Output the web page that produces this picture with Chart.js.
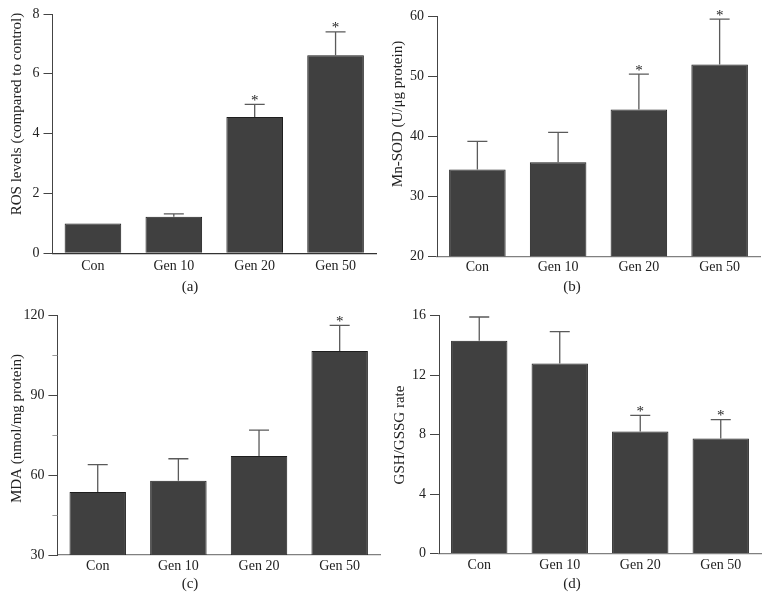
<!DOCTYPE html>
<html>
<head>
<meta charset="utf-8">
<script src="https://cdn.jsdelivr.net/npm/chart.js@4.4.1/dist/chart.umd.min.js"></script>
<style>
  body { margin: 0; background: #fff; }
  #wrap { position: relative; width: 766px; height: 604px; font-family: "Liberation Serif", serif; }
  canvas { position: absolute; }
  .lbl { position: absolute; font-size: 15px; color: #222; transform: translate(-50%, -50%); }
</style>
</head>
<body>
<div id="wrap">
  <canvas id="ca" width="383" height="302" style="left:0;top:0"></canvas>
  <canvas id="cb" width="383" height="302" style="left:383px;top:0"></canvas>
  <canvas id="cc" width="383" height="302" style="left:0;top:302px"></canvas>
  <canvas id="cd" width="383" height="302" style="left:383px;top:302px"></canvas>
  <div class="lbl" style="left:190px;top:286px">(a)</div>
  <div class="lbl" style="left:572px;top:286px">(b)</div>
  <div class="lbl" style="left:190px;top:583px">(c)</div>
  <div class="lbl" style="left:572px;top:583px">(d)</div>
</div>
<script>
// --- данные ---
const groups = ['Con', 'Gen 10', 'Gen 20', 'Gen 50'];

const rosMean = [1.0, 1.22, 4.56, 6.62];
const rosSD   = [0, 0.1, 0.42, 0.78];
const rosSig  = [false, false, true, true];

const sodMean = [34.5, 35.7, 44.5, 52.0];
const sodSD   = [4.7, 5.0, 5.9, 7.6];
const sodSig  = [false, false, true, true];

const mdaMean = [53.6, 57.8, 67.1, 106.5];
const mdaSD   = [10.3, 8.3, 9.7, 9.6];
const mdaSig  = [false, false, false, true];
const mdaMinor = [45, 75, 105];

const gshMean = [14.3, 12.77, 8.2, 7.73];
const gshSD   = [1.6, 2.15, 1.08, 1.27];
const gshSig  = [false, false, true, true];

const FONT = 'Liberation Serif';

// --- планки погрешностей, звёздочки, малые деления ---
const errorBars = {
  id: 'errorBars',
  afterDatasetsDraw(chart, args, o) {
    const ctx = chart.ctx;
    const y = chart.scales.y;
    const vals = chart.data.datasets[0].data;
    ctx.save();
    ctx.strokeStyle = '#5a5a5a';
    ctx.lineWidth = 1.3;
    ctx.fillStyle = '#222';
    ctx.font = '15px "' + FONT + '"';
    ctx.textAlign = 'center';
    ctx.textBaseline = 'alphabetic';
    chart.getDatasetMeta(0).data.forEach((bar, i) => {
      const sd = o.sd[i];
      const top = y.getPixelForValue(vals[i] + sd);
      if (sd > 0) {
        ctx.beginPath();
        ctx.moveTo(bar.x, bar.y);
        ctx.lineTo(bar.x, top);
        ctx.moveTo(bar.x - 10, top);
        ctx.lineTo(bar.x + 10, top);
        ctx.stroke();
      }
      if (o.sig[i]) ctx.fillText('*', bar.x, top + 0.5);
    });
    if (o.minor) {
      ctx.strokeStyle = '#999';
      ctx.lineWidth = 1;
      o.minor.forEach(v => {
        const py = Math.round(y.getPixelForValue(v)) + 0.5;
        ctx.beginPath();
        ctx.moveTo(y.right - 5, py);
        ctx.lineTo(y.right, py);
        ctx.stroke();
      });
    }
    ctx.restore();
  }
};

// --- подпись оси Y ---
const yTitle = {
  id: 'yTitle',
  afterDraw(chart, args, o) {
    const ctx = chart.ctx;
    ctx.save();
    ctx.translate(o.x, o.y);
    ctx.rotate(-Math.PI / 2);
    ctx.fillStyle = '#222';
    ctx.font = o.size + 'px "' + FONT + '"';
    ctx.textAlign = 'center';
    ctx.textBaseline = 'middle';
    ctx.fillText(o.text, 0, 0);
    ctx.restore();
  }
};

function makePanel(id, p) {
  return new Chart(document.getElementById(id), {
    type: 'bar',
    data: {
      labels: groups,
      datasets: [{
        data: p.mean,
        backgroundColor: '#404040',
        borderColor: '#1e1e1e',
        borderWidth: 1,
        categoryPercentage: 1,
        barPercentage: 0.7
      }]
    },
    options: {
      responsive: false,
      animation: false,
      layout: { padding: { left: 0, right: 383 - p.right, top: p.top, bottom: 0 } },
      plugins: {
        legend: { display: false },
        tooltip: { enabled: false },
        errorBars: { sd: p.sd, sig: p.sig, minor: p.minor },
        yTitle: { text: p.title, x: p.tx, y: p.ty, size: 15 }
      },
      scales: {
        x: {
          grid: { display: false, drawTicks: false },
          border: { color: p.xColor, width: 1.3 },
          ticks: { color: '#222', padding: p.xPad, font: { family: FONT, size: 14 } },
          afterFit: s => { s.height = 302 - p.bottom; }
        },
        y: {
          min: p.min, max: p.max,
          ticks: { stepSize: p.step, color: '#222', padding: 4, font: { family: FONT, size: 14 } },
          grid: { drawOnChartArea: false, tickLength: 9, color: '#444' },
          border: { color: '#444', width: 1 },
          afterFit: s => { s.width = p.left; }
        }
      }
    },
    plugins: [errorBars, yTitle]
  });
}

makePanel('ca', { mean: rosMean, sd: rosSD, sig: rosSig, min: 0, max: 8, step: 2,
  title: 'ROS levels (compared to control)', tx: 17, ty: 114,
  left: 52.5, right: 376, top: 14, bottom: 253.3, xPad: 5, xColor: '#333' });
makePanel('cb', { mean: sodMean, sd: sodSD, sig: sodSig, min: 20, max: 60, step: 10,
  title: 'Mn-SOD (U/\u03bcg protein)', tx: 15, ty: 114,
  left: 54, right: 377, top: 16.7, bottom: 256.3, xPad: 3, xColor: '#808080' });
makePanel('cc', { mean: mdaMean, sd: mdaSD, sig: mdaSig, minor: mdaMinor, min: 30, max: 120, step: 30,
  title: 'MDA (nmol/mg protein)', tx: 17, ty: 126.5,
  left: 57.4, right: 380, top: 13, bottom: 253, xPad: 3, xColor: '#808080' });
makePanel('cd', { mean: gshMean, sd: gshSD, sig: gshSig, min: 0, max: 16, step: 4,
  title: 'GSH/GSSG rate', tx: 17, ty: 133,
  left: 56, right: 378, top: 13.5, bottom: 251.5, xPad: 3, xColor: '#808080' });
</script>
</body>
</html>
